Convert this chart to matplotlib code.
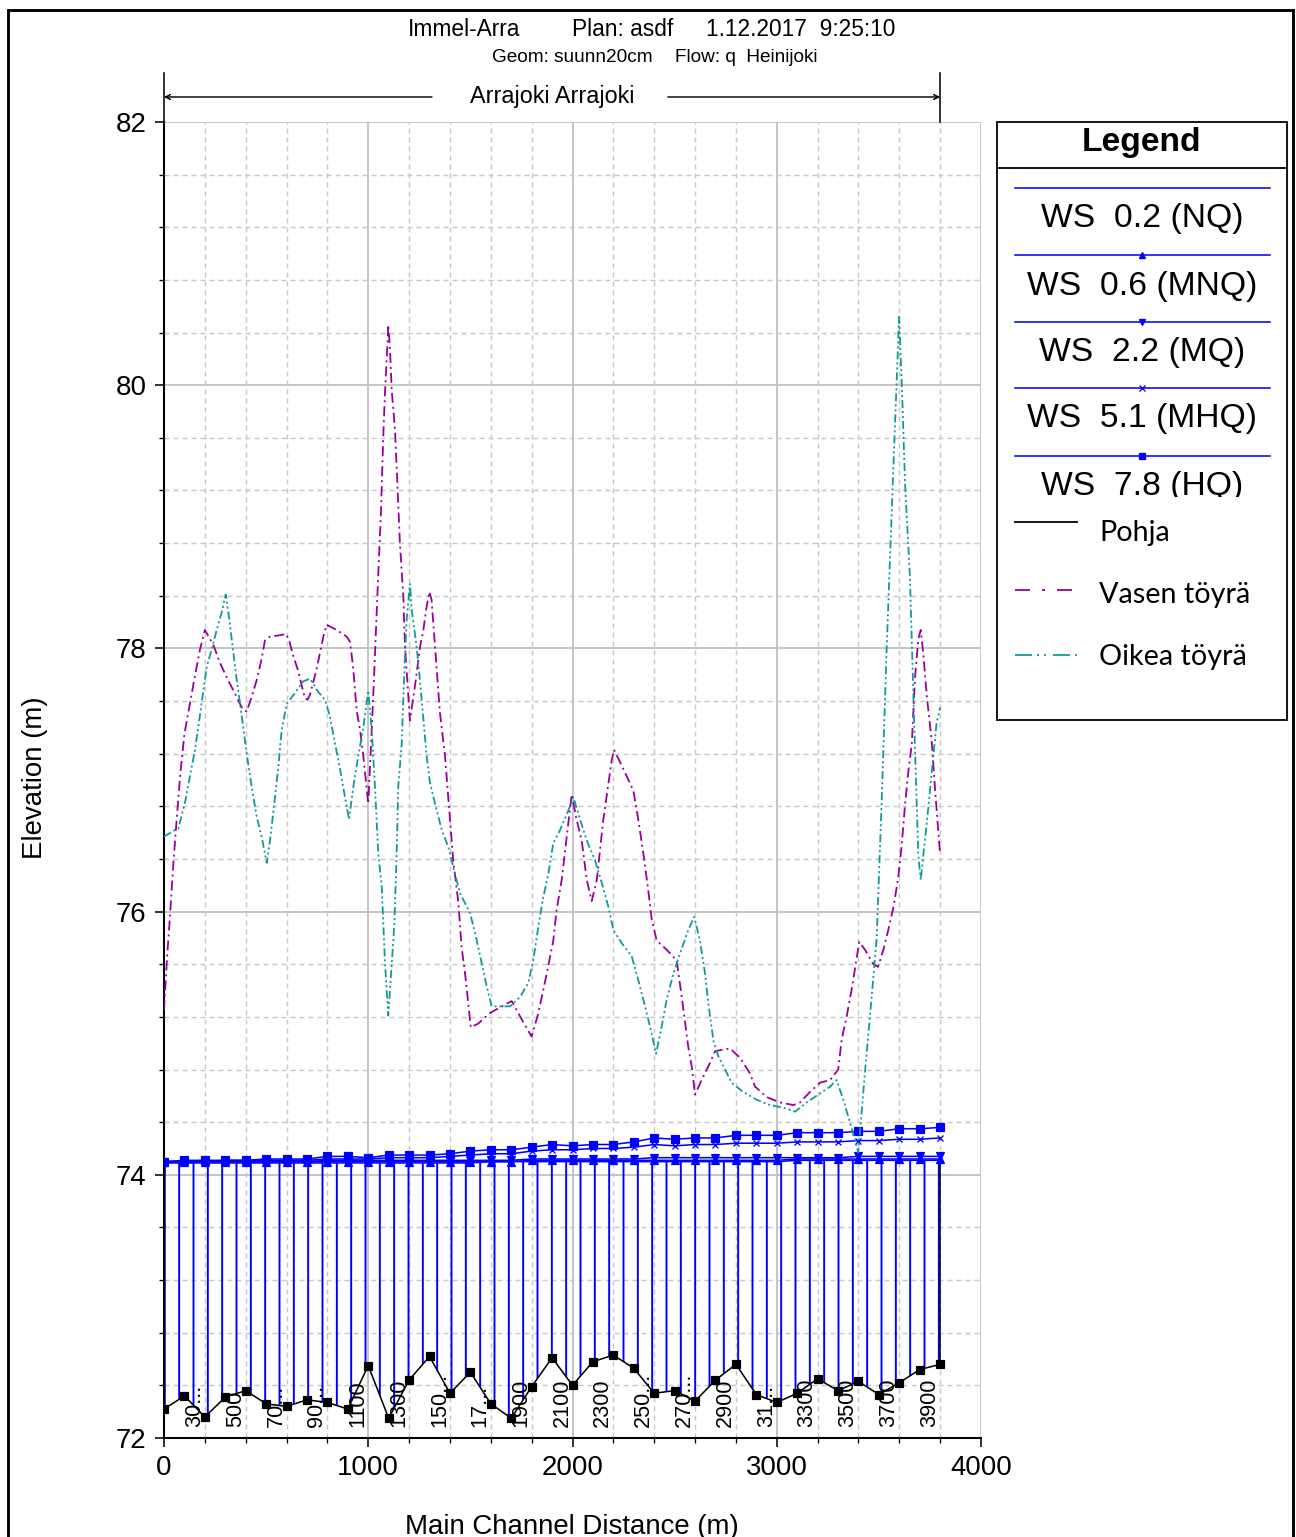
import matplotlib
matplotlib.use('Agg')
import matplotlib.pyplot as plt
from matplotlib.lines import Line2D
from matplotlib.patches import Rectangle
from matplotlib.ticker import MultipleLocator
from matplotlib.transforms import Bbox

# --- data -----------------------------------------------------------------
stations = [0, 100, 200, 300, 400, 500, 600, 700, 800, 900,
            1000, 1100, 1200, 1300, 1400, 1500, 1600, 1700, 1800, 1900,
            2000, 2100, 2200, 2300, 2400, 2500, 2600, 2700, 2800, 2900,
            3000, 3100, 3200, 3300, 3400, 3500, 3600, 3700, 3800]

pohja = [72.22, 72.32, 72.16, 72.31, 72.36, 72.26, 72.24, 72.29, 72.27, 72.22,
         72.55, 72.15, 72.44, 72.62, 72.34, 72.50, 72.26, 72.15, 72.39, 72.61,
         72.40, 72.58, 72.63, 72.53, 72.34, 72.36, 72.28, 72.44, 72.56, 72.33,
         72.27, 72.34, 72.45, 72.36, 72.43, 72.33, 72.42, 72.52, 72.56]

ws_nq = [74.09, 74.09, 74.09, 74.09, 74.09, 74.09, 74.09, 74.09, 74.09, 74.09,
         74.09, 74.09, 74.09, 74.09, 74.09, 74.09, 74.10, 74.10, 74.10, 74.10,
         74.10, 74.10, 74.10, 74.10, 74.10, 74.10, 74.10, 74.10, 74.10, 74.10,
         74.10, 74.11, 74.11, 74.11, 74.11, 74.11, 74.11, 74.11, 74.11]
ws_mnq = [74.10, 74.10, 74.10, 74.10, 74.10, 74.10, 74.10, 74.10, 74.10, 74.10,
          74.10, 74.10, 74.10, 74.10, 74.10, 74.10, 74.10, 74.10, 74.11, 74.11,
          74.11, 74.11, 74.11, 74.11, 74.11, 74.11, 74.11, 74.11, 74.11, 74.11,
          74.11, 74.12, 74.12, 74.12, 74.12, 74.12, 74.12, 74.12, 74.12]
ws_mq = [74.10, 74.10, 74.10, 74.10, 74.10, 74.10, 74.10, 74.10, 74.11, 74.11,
         74.11, 74.11, 74.11, 74.11, 74.11, 74.11, 74.11, 74.11, 74.12, 74.12,
         74.12, 74.12, 74.12, 74.12, 74.13, 74.13, 74.13, 74.13, 74.13, 74.13,
         74.13, 74.13, 74.13, 74.13, 74.14, 74.14, 74.14, 74.14, 74.14]
ws_mhq = [74.10, 74.10, 74.10, 74.11, 74.11, 74.11, 74.11, 74.11, 74.12, 74.12,
          74.12, 74.13, 74.13, 74.13, 74.14, 74.15, 74.16, 74.16, 74.18, 74.19,
          74.19, 74.20, 74.20, 74.21, 74.23, 74.22, 74.23, 74.23, 74.24, 74.24,
          74.24, 74.25, 74.25, 74.25, 74.26, 74.26, 74.27, 74.27, 74.28]
ws_hq = [74.10, 74.11, 74.11, 74.11, 74.11, 74.12, 74.12, 74.12, 74.14, 74.14,
         74.13, 74.15, 74.15, 74.15, 74.16, 74.18, 74.19, 74.19, 74.21, 74.23,
         74.22, 74.23, 74.23, 74.25, 74.28, 74.27, 74.28, 74.28, 74.30, 74.30,
         74.30, 74.32, 74.32, 74.32, 74.33, 74.33, 74.35, 74.35, 74.36]

vasen_x = [0, 15, 29, 46, 62, 80, 100, 127, 150, 176, 200, 241, 274, 307, 356,
           384, 405, 429, 454, 478, 494, 519, 568, 597, 613, 633, 655, 690, 703,
           715, 747, 780, 796, 845, 894, 911, 927, 943, 960, 976, 1000, 1017,
           1030, 1046, 1062, 1074, 1082, 1093, 1098, 1106, 1115, 1131, 1139,
           1155, 1172, 1180, 1191, 1204, 1221, 1237, 1253, 1270, 1283, 1299,
           1310, 1327, 1351, 1376, 1400, 1416, 1441, 1457, 1474, 1490, 1502,
           1539, 1596, 1702, 1759, 1800, 1833, 1874, 1906, 1922, 1947, 1972,
           1996, 2020, 2045, 2070, 2094, 2119, 2151, 2192, 2203, 2241, 2298,
           2322, 2347, 2371, 2388, 2412, 2461, 2510, 2535, 2567, 2584, 2600,
           2632, 2673, 2698, 2771, 2820, 2869, 2894, 2951, 3016, 3081, 3114,
           3163, 3212, 3261, 3301, 3318, 3342, 3367, 3404, 3432, 3473, 3496,
           3522, 3546, 3571, 3595, 3612, 3628, 3644, 3661, 3677, 3693, 3705,
           3718, 3734, 3759, 3775, 3800]
vasen_y = [75.25, 75.65, 75.96, 76.37, 76.70, 77.05, 77.35, 77.58, 77.78, 77.99,
           78.14, 78.03, 77.89, 77.78, 77.63, 77.54, 77.52, 77.63, 77.76, 77.92,
           78.06, 78.09, 78.10, 78.11, 78.06, 77.94, 77.84, 77.62, 77.61, 77.65,
           77.84, 78.09, 78.18, 78.14, 78.09, 78.05, 77.84, 77.53, 77.38, 77.18,
           76.82, 77.38, 77.84, 78.45, 79.03, 79.63, 79.95, 80.28, 80.46, 80.29,
           79.96, 79.66, 79.38, 78.80, 78.39, 78.01, 77.76, 77.45, 77.63, 77.81,
           78.01, 78.14, 78.29, 78.43, 78.37, 78.01, 77.51, 77.18, 76.70, 76.39,
           76.07, 75.73, 75.53, 75.30, 75.12, 75.15, 75.23, 75.32, 75.16, 75.05,
           75.23, 75.53, 75.78, 76.01, 76.24, 76.57, 76.89, 76.70, 76.54, 76.24,
           76.08, 76.24, 76.70, 77.15, 77.23, 77.11, 76.92, 76.70, 76.44, 76.16,
           75.94, 75.78, 75.71, 75.63, 75.35, 74.97, 74.82, 74.61, 74.72, 74.85,
           74.94, 74.96, 74.89, 74.77, 74.67, 74.59, 74.55, 74.53, 74.55, 74.63,
           74.70, 74.72, 74.80, 75.03, 75.20, 75.41, 75.77, 75.71, 75.60, 75.58,
           75.71, 75.86, 76.03, 76.26, 76.51, 76.81, 77.06, 77.27, 77.78, 78.07,
           78.14, 77.95, 77.65, 77.29, 76.93, 76.43]

oikea_x = [0, 54, 70, 103, 127, 152, 184, 209, 233, 258, 282, 302, 318, 340,
           356, 377, 405, 429, 454, 478, 503, 519, 540, 560, 576, 601, 641, 682,
           715, 755, 788, 813, 837, 862, 886, 906, 927, 951, 976, 1000, 1017,
           1033, 1049, 1066, 1082, 1098, 1115, 1128, 1139, 1147, 1164, 1177,
           1188, 1204, 1213, 1237, 1253, 1270, 1286, 1302, 1327, 1360, 1392,
           1416, 1449, 1498, 1523, 1555, 1580, 1604, 1694, 1743, 1784, 1808,
           1833, 1857, 1882, 1906, 1939, 1980, 2004, 2037, 2070, 2110, 2143,
           2175, 2200, 2241, 2290, 2322, 2355, 2379, 2409, 2437, 2461, 2494,
           2526, 2567, 2596, 2624, 2649, 2665, 2690, 2714, 2747, 2779, 2835,
           2902, 2967, 3032, 3090, 3147, 3204, 3261, 3293, 3326, 3358, 3399,
           3432, 3456, 3489, 3514, 3538, 3566, 3587, 3599, 3612, 3628, 3652,
           3672, 3693, 3705, 3718, 3742, 3783, 3800]
oikea_y = [76.57, 76.62, 76.63, 76.83, 77.03, 77.23, 77.58, 77.86, 77.99, 78.14,
           78.27, 78.41, 78.24, 77.96, 77.76, 77.53, 77.20, 76.95, 76.72, 76.57,
           76.37, 76.54, 76.82, 77.10, 77.38, 77.58, 77.66, 77.75, 77.77, 77.67,
           77.61, 77.48, 77.28, 77.08, 76.87, 76.70, 76.95, 77.18, 77.40, 77.68,
           77.38, 76.95, 76.44, 76.19, 75.61, 75.21, 75.61, 75.91, 76.44, 76.95,
           77.28, 77.84, 78.22, 78.49, 78.29, 78.01, 77.76, 77.46, 77.18, 76.98,
           76.82, 76.62, 76.49, 76.34, 76.14, 75.99, 75.84, 75.61, 75.43, 75.28,
           75.28, 75.35, 75.46, 75.63, 75.89, 76.11, 76.29, 76.52, 76.62, 76.77,
           76.87, 76.70, 76.54, 76.39, 76.22, 76.04, 75.86, 75.76, 75.66, 75.48,
           75.28, 75.13, 74.92, 75.13, 75.33, 75.53, 75.68, 75.86, 75.96, 75.78,
           75.53, 75.30, 75.02, 74.90, 74.80, 74.70, 74.63, 74.57, 74.53, 74.51,
           74.48, 74.55, 74.61, 74.67, 74.72, 74.57, 74.40, 74.17, 74.78, 75.20,
           75.79, 76.85, 77.99, 79.17, 80.02, 80.52, 80.02, 79.26, 78.54, 77.48,
           76.43, 76.24, 76.43, 76.79, 77.44, 77.55]

label_stations = [200, 400, 600, 800, 1000, 1200, 1400, 1600, 1800, 2000,
                  2200, 2400, 2600, 2800, 3000, 3200, 3400, 3600, 3800]
label_texts = ['30...', '500', '70...', '90...', '1100', '1300', '150...',
               '17...', '1900', '2100', '2300', '250...', '270...', '2900',
               '31...', '3300', '3500', '3700', '3900']

ws_labels = ['WS  0.2 (NQ)', 'WS  0.6 (MNQ)', 'WS  2.2 (MQ)',
             'WS  5.1 (MHQ)', 'WS  7.8 (HQ)']

# --- figure setup ------------------------------------------------------
W, H = 1296, 1537
DPI = 86.4          # hatch '|' then gives ~14 px spacing like HEC-RAS
PT = DPI / 72.0     # pixels per point

plt.rcParams['font.family'] = ['Liberation Sans', 'DejaVu Sans']
plt.rcParams['lines.scale_dashes'] = False
plt.rcParams['hatch.linewidth'] = 1.6
plt.rcParams['hatch.color'] = '#0000ff'


def fx(px):
    return px / W


def fy(py):
    return 1 - py / H


def dash(*px):
    return (0, tuple(v / PT for v in px))


BLUE = '#0000ff'
PURPLE = '#990099'
TEAL = '#119999'

fig = plt.figure(figsize=(W / DPI, H / DPI), dpi=DPI)
ax = fig.add_axes([fx(164), fy(1438), (981 - 164) / W, (1438 - 122) / H])
ax.set_xlim(0, 4000)
ax.set_ylim(72, 82)

ax.xaxis.set_major_locator(MultipleLocator(1000))
ax.xaxis.set_minor_locator(MultipleLocator(200))
ax.yaxis.set_major_locator(MultipleLocator(2))
ax.yaxis.set_minor_locator(MultipleLocator(0.4))
ax.grid(True, which='major', color='#c4c4c4', linewidth=1.6, zorder=0)
ax.grid(True, which='minor', color='#c8c8c8', linewidth=1.2,
        linestyle=dash(5, 4), zorder=0)
ax.set_axisbelow(True)

for s in ['top', 'right']:
    ax.spines[s].set_visible(False)
for s in ['left', 'bottom']:
    ax.spines[s].set_linewidth(1.7)
ax.tick_params(which='major', direction='out', length=7.5, width=1.3,
               labelsize=23, pad=7)
ax.tick_params(which='minor', direction='out', length=4.5, width=1.1)

# water fill (hatched) between bed and lowest WS
ax.fill_between(stations, pohja, ws_nq, facecolor='none', edgecolor=BLUE,
                hatch='|', linewidth=0, zorder=1)
ax.plot([stations[-1], stations[-1]], [pohja[-1], ws_nq[-1]],
        color='black', lw=1.3, zorder=2)

ax.plot(stations, ws_nq, color=BLUE, lw=1.3, zorder=3)
ax.plot(stations, ws_mnq, color=BLUE, lw=1.3, marker='^', ms=6.5, zorder=3)
ax.plot(stations, ws_mq, color=BLUE, lw=1.3, marker='v', ms=6.5, zorder=3)
ax.plot(stations, ws_mhq, color=BLUE, lw=1.3, marker='x', ms=5.5, mew=1.1,
        zorder=3)
ax.plot(stations, ws_hq, color=BLUE, lw=1.3, marker='s', ms=7, zorder=3)

ax.plot(stations, pohja, color='black', lw=1.3, marker='s', ms=7, zorder=4)
ax.plot(vasen_x, vasen_y, color=PURPLE, lw=1.5, linestyle=dash(10, 4, 2, 4),
        zorder=4)
ax.plot(oikea_x, oikea_y, color=TEAL, lw=1.5,
        linestyle=dash(8, 3, 2, 3, 2, 3), zorder=4)

for st, lab in zip(label_stations, label_texts):
    ax.text(st, 72.08, lab, rotation=90, ha='right', va='bottom',
            fontsize=18, zorder=5)

# reach bracket above the plot
yb = 82.19
for st in [stations[0], stations[-1]]:
    ax.plot([st, st], [82, 82.37], color='black', lw=1.3, clip_on=False)
ax.annotate('', xy=(stations[0], yb), xytext=(1312, yb),
            arrowprops=dict(arrowstyle='->', lw=1.2, color='black',
                            shrinkA=0, shrinkB=0), annotation_clip=False)
ax.annotate('', xy=(stations[-1], yb), xytext=(2467, yb),
            arrowprops=dict(arrowstyle='->', lw=1.2, color='black',
                            shrinkA=0, shrinkB=0), annotation_clip=False)
ax.text((stations[0] + stations[-1]) / 2, yb, 'Arrajoki Arrajoki',
        ha='center', va='center', fontsize=19.5)

# titles and axis labels
fig.text(fx(408), fy(30), 'Immel-Arra', fontsize=19, va='center')
fig.text(fx(572), fy(30), 'Plan: asdf', fontsize=19, va='center')
fig.text(fx(706), fy(30), '1.12.2017  9:25:10', fontsize=19, va='center')
fig.text(fx(492), fy(58), 'Geom: suunn20cm', fontsize=15.8, va='center')
fig.text(fx(675), fy(58), 'Flow: q  Heinijoki', fontsize=15.8, va='center')
fig.text(fx(35), fy(778), 'Elevation (m)', rotation=90, fontsize=23,
         ha='center', va='center')
fig.text(fx(572), fy(1514), 'Main Channel Distance (m)', fontsize=23,
         ha='center', va='top')

# legend box
fig.add_artist(Rectangle((fx(997), fy(720)), (1287 - 997) / W, (720 - 122) / H,
                         transform=fig.transFigure, fill=False,
                         edgecolor='black', lw=1.5))
fig.add_artist(Line2D([fx(997), fx(1287)], [fy(168), fy(168)],
                      transform=fig.transFigure, color='black', lw=1.5))
fig.text(fx(1142), fy(143), 'Legend', fontsize=28, fontweight='bold',
         ha='center', va='center')

ws_markers = [None, '^', 'v', 'x', 's']
line_rows = [188, 255, 322, 388, 456]
text_rows = [219, 286, 353, 419, 487]
clip = Bbox.from_extents(997, H - 497, 1287, H - 168)
for lab, mk, ly, ty in zip(ws_labels, ws_markers, line_rows, text_rows):
    fig.add_artist(Line2D([fx(1015), fx(1270)], [fy(ly), fy(ly)],
                          transform=fig.transFigure, color=BLUE, lw=1.3))
    if mk:
        fig.add_artist(Line2D([fx(1142)], [fy(ly)], transform=fig.transFigure,
                              color=BLUE, marker=mk, ms=5.5, mew=1.1,
                              linestyle='none'))
    t = fig.text(fx(1142), fy(ty), lab, fontsize=28, ha='center', va='center')
    t.set_clip_box(clip)
    t.set_clip_on(True)

other = [('Pohja', 'black', '-', 522, 533),
         ('Vasen töyrä', PURPLE, dash(15, 12, 3, 12), 590, 595),
         ('Oikea töyrä', TEAL, dash(17, 5, 2, 5, 2, 7), 655, 657)]
for lab, col, ls, ly, ty in other:
    fig.add_artist(Line2D([fx(1015), fx(1077)], [fy(ly), fy(ly)],
                          transform=fig.transFigure, color=col, lw=1.5,
                          linestyle=ls))
    fig.text(fx(1099), fy(ty), lab, fontsize=24, ha='left', va='center',
             family=['Lato', 'DejaVu Sans'])

# outer frame
fig.add_artist(Rectangle((fx(8), fy(1560)), (1293 - 8) / W, (1560 - 10) / H,
                         transform=fig.transFigure, fill=False,
                         edgecolor='black', lw=2.4, clip_on=False))

fig.savefig('out.png', dpi=DPI)
